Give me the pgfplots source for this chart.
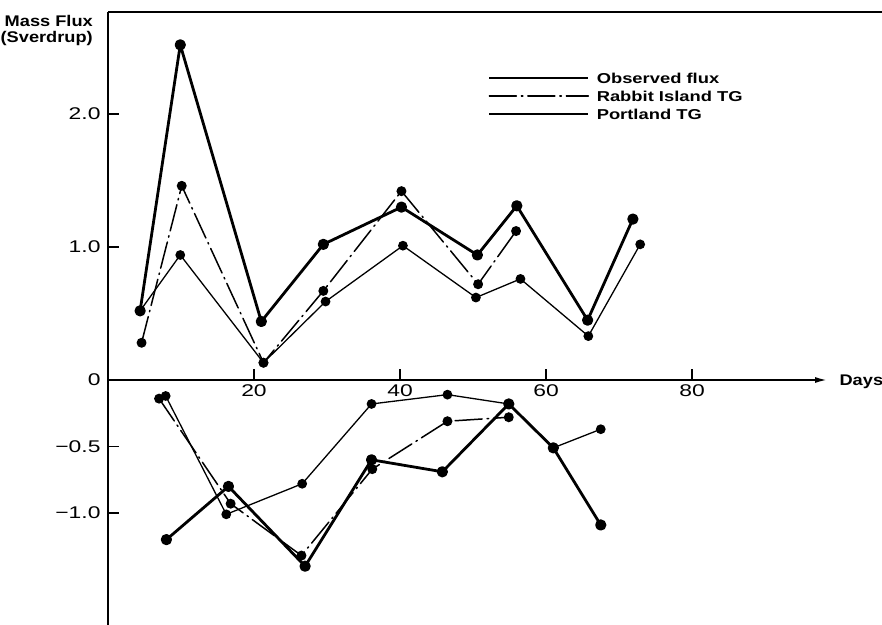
\documentclass[border=0pt]{standalone}
\usepackage{pgfplots}
\pgfplotsset{compat=1.18}
\usepackage{fontspec}
\setmainfont{Liberation Sans}
\newfontfamily\tickfont{Liberation Sans}[FakeStretch=1.35]
\newfontfamily\labfont{Liberation Sans}[FakeStretch=1.18]
\newfontfamily\legfont{Liberation Sans}[FakeStretch=1.28]
\usetikzlibrary{arrows.meta}

\begin{document}
\begin{tikzpicture}
\path[use as bounding box] (-108bp,0) rectangle (774bp,625bp);
\begin{axis}[
  scale only axis,
  x=7.3bp, y=133bp,
  xmin=0, xmax=98.5, ymin=-1.842, ymax=2.767,
  enlargelimits=false,
  clip=false,
  axis x line=middle, axis y line*=left,
  axis line style={line width=1.8bp},
  x axis line style={-{Latex[length=12bp,width=6bp]}},
  xtick={20,40,60,80},
  xticklabels={20,40,60,80},
  ytick={-1,-0.5,0,1,2},
  yticklabels={−1.0,−0.5,0,1.0,2.0},
  hide obscured y ticks=false,
  tick align=inside,
  major tick length=11bp,
  tick style={line width=1.4bp, black},
  tick label style={font=\tickfont\fontsize{17}{20}\selectfont},
  yticklabel style={xshift=-4bp},
  xticklabel style={yshift=-1.5bp},
  xlabel={Days},
  ylabel={Mass Flux\\(Sverdrup)},
  every axis x label/.style={at={(axis cs:98.5,0)}, anchor=base west, xshift=9bp, yshift=-5.5bp,
     font=\labfont\bfseries\fontsize{15.5}{16}\selectfont},
  every axis y label/.style={at={(axis description cs:0,1)}, anchor=north east, align=right,
     inner sep=0pt, xshift=-15bp, yshift=-3bp,
     font=\labfont\bfseries\fontsize{15.5}{16}\selectfont},
  legend style={at={(axis cs:52.05,2.338)}, anchor=north west, draw=none, fill=none,
     inner sep=0pt, outer sep=0pt, row sep=0pt, column sep=7bp,
     font=\legfont\bfseries\fontsize{14.4}{15}\selectfont,
     nodes={inner sep=0pt, text height=14bp, text depth=4bp}},
  legend cell align=left,
  legend image code/.code={\draw[mark=none,#1] (0bp,0bp) -- (99bp,0bp);},
  mark size=4.2bp,
]
% Observed flux
\addplot[black, line width=2.8bp, mark=*, line join=round] coordinates {
 (4.4,0.52) (9.9,2.52) (21.0,0.44) (29.5,1.02) (40.2,1.30) (50.6,0.94) (56.0,1.31) (65.7,0.45) (71.9,1.21)};
\addlegendentry{Observed flux}
% Rabbit Island TG
\addplot[black, line width=1.5bp, mark=*, line cap=round, dash pattern=on 27bp off 5bp on 1.5bp off 5bp] coordinates {
 (4.6,0.28) (10.1,1.46) (21.3,0.13) (29.5,0.67) (40.2,1.42) (50.7,0.72) (55.9,1.12)};
\addlegendentry{Rabbit Island TG}
% Portland TG
\addplot[black, line width=1.3bp, mark=*] coordinates {
 (4.4,0.52) (9.9,0.94) (21.3,0.13) (29.8,0.59) (40.4,1.01) (50.4,0.62) (56.5,0.76) (65.8,0.33) (72.9,1.02)};
\addlegendentry{Portland TG}
% lower part
\addplot[black, line width=2.8bp, mark=*, line join=round, forget plot] coordinates {
 (8.0,-1.20) (16.5,-0.80) (27.0,-1.40) (36.1,-0.60) (45.8,-0.69) (54.9,-0.18) (61.0,-0.51) (67.5,-1.09)};
\addplot[black, line width=1.5bp, mark=*, line cap=round, dash pattern=on 27bp off 5bp on 1.5bp off 5bp, forget plot] coordinates {
 (7.0,-0.14) (16.8,-0.93) (26.5,-1.32) (36.2,-0.67) (46.5,-0.31) (54.9,-0.28)};
\addplot[black, line width=1.3bp, mark=*, forget plot] coordinates {
 (7.9,-0.12) (16.2,-1.01) (26.6,-0.78) (36.1,-0.18) (46.5,-0.11) (54.9,-0.18) (61.0,-0.51) (67.5,-0.37)};
\end{axis}
\draw[line width=1.8bp] (0,613bp) -- (774bp,613bp);
\end{tikzpicture}
\end{document}
